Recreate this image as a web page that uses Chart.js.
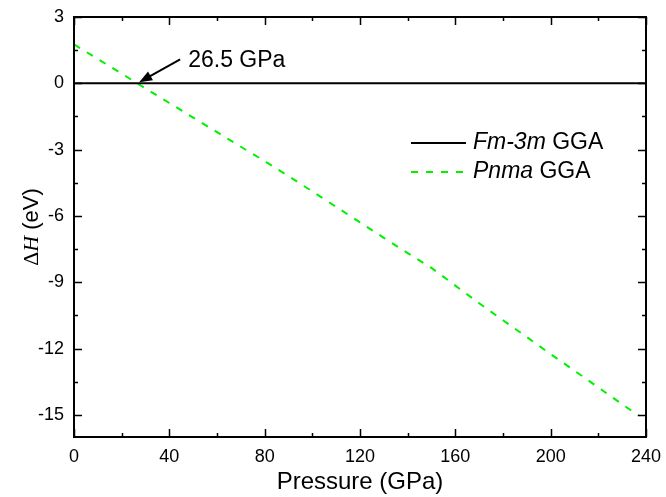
<!DOCTYPE html>
<html>
<head>
<meta charset="utf-8">
<title>Enthalpy difference vs pressure</title>
<script src="https://cdn.jsdelivr.net/npm/chart.js@4/dist/chart.umd.min.js"></script>
<style>
  html, body { margin: 0; padding: 0; background: #fff; }
  #wrap { width: 666px; height: 497px; position: relative; }
</style>
</head>
<body>
<div id="wrap"><canvas id="enthalpyChart"></canvas></div>
<script>
// Phase names and functional
const phaseNames = ['Fm-3m', 'Pnma'];
const functionalName = 'GGA';

// Fm-3m is the reference phase: ΔH = 0 everywhere
const fm3mPressure = [0, 240];
const fm3mEnthalpy = [0, 0];

// Pnma enthalpy relative to Fm-3m (eV)
const pnmaPressure = [0, 10, 20, 26.5, 30, 40, 50, 60, 70, 80, 90, 100, 110, 120, 130, 140, 150, 160, 170, 180, 190, 200, 210, 220, 230, 237];
const pnmaEnthalpy = [1.76, 1.10, 0.44, 0, -0.23, -0.89, -1.55, -2.21, -2.87, -3.52, -4.20, -4.89, -5.59, -6.29, -6.99, -7.68, -8.35, -9.15, -9.95, -10.72, -11.48, -12.25, -13.00, -13.76, -14.52, -15.04];

// Transition pressure marked with an arrow
const transitionPressure = 26.5;

// Axis ticks
const xMajorTicks = [0, 40, 80, 120, 160, 200, 240];
const xMinorTicks = [20, 60, 100, 140, 180, 220];
const yMajorTicks = [-15, -12, -9, -6, -3, 0, 3];
const yMinorTicks = [-13.5, -10.5, -7.5, -4.5, -1.5, 1.5];

const sansFont = '"Liberation Sans", Arial, sans-serif';
const serifFont = '"Liberation Serif", "Times New Roman", serif';
const pnmaGreen = '#00f000';

const toPoints = (xs, ys) => xs.map((x, i) => ({ x: x, y: ys[i] }));

// Frame, inward tick marks, legend, y title and the arrow label
const decorations = {
  id: 'decorations',
  afterDatasetsDraw(chart) {
    const { ctx, chartArea: a, scales: { x, y } } = chart;
    ctx.save();

    // frame
    ctx.strokeStyle = '#000';
    ctx.lineWidth = 2;
    ctx.strokeRect(a.left, a.top, a.right - a.left, a.bottom - a.top);

    // ticks on all four sides, pointing in
    ctx.lineWidth = 1.5;
    ctx.beginPath();
    const xTick = (v, len) => {
      const px = Math.round(x.getPixelForValue(v)) + 0.5;
      ctx.moveTo(px, a.bottom); ctx.lineTo(px, a.bottom - len);
      ctx.moveTo(px, a.top); ctx.lineTo(px, a.top + len);
    };
    const yTick = (v, len) => {
      const py = Math.round(y.getPixelForValue(v)) + 0.5;
      ctx.moveTo(a.left, py); ctx.lineTo(a.left + len, py);
      ctx.moveTo(a.right, py); ctx.lineTo(a.right - len, py);
    };
    xMajorTicks.forEach(v => xTick(v, 8));
    xMinorTicks.forEach(v => xTick(v, 4));
    yMajorTicks.forEach(v => yTick(v, 8));
    yMinorTicks.forEach(v => yTick(v, 4));
    ctx.stroke();

    // legend
    const lx = 411, ly = 143, rowH = 29;
    chart.data.datasets.forEach((ds, i) => {
      const yy = ly + i * rowH;
      ctx.beginPath();
      ctx.strokeStyle = ds.borderColor;
      ctx.lineWidth = ds.borderWidth;
      ctx.setLineDash(ds.borderDash || []);
      ctx.moveTo(lx, yy); ctx.lineTo(lx + 55, yy);
      ctx.stroke();
      ctx.setLineDash([]);
      ctx.fillStyle = '#000';
      ctx.textBaseline = 'middle';
      ctx.textAlign = 'left';
      ctx.font = 'italic 23px ' + sansFont;
      ctx.fillText(ds.label, lx + 62, yy);
      const w = ctx.measureText(ds.label).width;
      ctx.font = '23px ' + sansFont;
      ctx.fillText(' ' + functionalName, lx + 62 + w, yy);
    });

    // y axis title: ΔH (eV)
    const parts = [
      { t: 'Δ', f: '22px ' + serifFont },
      { t: 'H', f: 'italic 22px ' + serifFont },
      { t: ' (eV)', f: '22px ' + sansFont }
    ];
    let total = 0;
    parts.forEach(p => { ctx.font = p.f; p.w = ctx.measureText(p.t).width; total += p.w; });
    ctx.translate(32, (a.top + a.bottom) / 2);
    ctx.rotate(-Math.PI / 2);
    ctx.textBaseline = 'middle';
    let cx = -total / 2;
    parts.forEach(p => { ctx.font = p.f; ctx.fillText(p.t, cx, 0); cx += p.w; });
    ctx.setTransform(1, 0, 0, 1, 0, 0);

    // arrow pointing at the crossing
    const tipX = x.getPixelForValue(transitionPressure) + 2;
    const tipY = y.getPixelForValue(0) - 1;
    const tailX = tipX + 41, tailY = tipY - 23;
    const ang = Math.atan2(tipY - tailY, tipX - tailX);
    ctx.strokeStyle = '#000';
    ctx.fillStyle = '#000';
    ctx.lineWidth = 2;
    ctx.beginPath();
    ctx.moveTo(tailX, tailY);
    ctx.lineTo(tipX - 10 * Math.cos(ang), tipY - 10 * Math.sin(ang));
    ctx.stroke();
    ctx.beginPath();
    ctx.moveTo(tipX, tipY);
    ctx.lineTo(tipX - 13 * Math.cos(ang) + 5 * Math.sin(ang), tipY - 13 * Math.sin(ang) - 5 * Math.cos(ang));
    ctx.lineTo(tipX - 13 * Math.cos(ang) - 5 * Math.sin(ang), tipY - 13 * Math.sin(ang) + 5 * Math.cos(ang));
    ctx.closePath();
    ctx.fill();
    ctx.font = '23px ' + sansFont;
    ctx.textAlign = 'left';
    ctx.textBaseline = 'middle';
    ctx.fillText(transitionPressure + ' GPa', tailX + 8, tailY + 1);

    ctx.restore();
  }
};

new Chart(document.getElementById('enthalpyChart'), {
  type: 'line',
  data: {
    datasets: [{
      label: phaseNames[0],
      data: toPoints(fm3mPressure, fm3mEnthalpy),
      borderColor: '#000',
      borderWidth: 2,
      pointRadius: 0,
      tension: 0
    }, {
      label: phaseNames[1],
      data: toPoints(pnmaPressure, pnmaEnthalpy),
      borderColor: pnmaGreen,
      borderWidth: 2,
      borderDash: [7, 8],
      pointRadius: 0,
      tension: 0
    }]
  },
  options: {
    responsive: true,
    maintainAspectRatio: false,
    animation: false,
    layout: { padding: { top: 17, right: 20, left: 0, bottom: 0 } },
    plugins: {
      legend: { display: false },
      tooltip: { enabled: false }
    },
    scales: {
      x: {
        type: 'linear',
        min: 0,
        max: 240,
        grid: { display: false, drawTicks: false },
        border: { display: false },
        afterBuildTicks: s => { s.ticks = xMajorTicks.map(v => ({ value: v })); },
        afterFit: s => { s.height = 60; s.paddingLeft = 0; s.paddingRight = 0; },
        ticks: {
          color: '#000',
          padding: 9,
          font: { family: sansFont, size: 18 },
          callback: v => String(v)
        },
        title: {
          display: true,
          text: 'Pressure (GPa)',
          color: '#000',
          padding: { top: 0, bottom: 0 },
          font: { family: sansFont, size: 24 }
        }
      },
      y: {
        type: 'linear',
        min: -16,
        max: 3,
        grid: { display: false, drawTicks: false },
        border: { display: false },
        afterBuildTicks: s => { s.ticks = yMajorTicks.map(v => ({ value: v })); },
        afterFit: s => { s.width = 74; s.paddingTop = 0; s.paddingBottom = 0; },
        ticks: {
          color: '#000',
          padding: 10,
          font: { family: sansFont, size: 18 },
          callback: v => String(v)
        }
      }
    }
  },
  plugins: [decorations]
});
</script>
</body>
</html>
